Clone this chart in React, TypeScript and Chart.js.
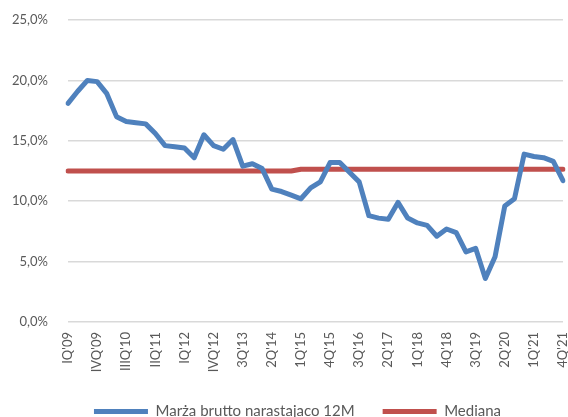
import React, { useEffect, useRef } from "react";
import { Chart, registerables } from "chart.js";

Chart.register(...registerables);

const quarterLabels: string[] = [
  "IQ'09", "IIQ'09", "IIIQ'09", "IVQ'09",
  "IQ'10", "IIQ'10", "IIIQ'10", "IVQ'10",
  "IQ'11", "IIQ'11", "IIIQ'11", "IVQ'11",
  "IQ'12", "IIQ'12", "IIIQ'12", "IVQ'12",
  "1Q'13", "2Q'13", "3Q'13", "4Q'13",
  "1Q'14", "2Q'14", "3Q'14", "4Q'14",
  "1Q'15", "2Q'15", "3Q'15", "4Q'15",
  "1Q'16", "2Q'16", "3Q'16", "4Q'16",
  "1Q'17", "2Q'17", "3Q'17", "4Q'17",
  "1Q'18", "2Q'18", "3Q'18", "4Q'18",
  "1Q'19", "2Q'19", "3Q'19", "4Q'19",
  "1Q'20", "2Q'20", "3Q'20", "4Q'20",
  "1Q'21", "2Q'21", "3Q'21", "4Q'21",
];

const marzaBrutto: number[] = [
  18.1, 19.1, 20.0, 19.9, 18.9, 17.0, 16.6, 16.5, 16.4, 15.6,
  14.6, 14.5, 14.4, 13.6, 15.5, 14.6, 14.3, 15.1, 12.9, 13.1,
  12.7, 11.0, 10.8, 10.5, 10.2, 11.1, 11.6, 13.2, 13.2, 12.4,
  11.6, 8.8, 8.6, 8.5, 9.9, 8.6, 8.2, 8.0, 7.1, 7.7,
  7.4, 5.8, 6.1, 3.6, 5.4, 9.6, 10.2, 13.9, 13.7, 13.6,
  13.3, 11.7,
];

const mediana: number[] = [
  12.5, 12.5, 12.5, 12.5, 12.5, 12.5, 12.5, 12.5, 12.5, 12.5,
  12.5, 12.5, 12.5, 12.5, 12.5, 12.5, 12.5, 12.5, 12.5, 12.5,
  12.5, 12.5, 12.5, 12.5, 12.65, 12.65, 12.65, 12.65, 12.65, 12.65,
  12.65, 12.65, 12.65, 12.65, 12.65, 12.65, 12.65, 12.65, 12.65, 12.65,
  12.65, 12.65, 12.65, 12.65, 12.65, 12.65, 12.65, 12.65, 12.65, 12.65,
  12.65, 12.65,
];

const seriesNames: string[] = ["Marża brutto narastajaco 12M", "Mediana"];
const yMin = 0;
const yMax = 25;
const yStep = 5;
const labelEvery = 3;

const FONT = "Lato, 'Open Sans', sans-serif";

const legendShift = {
  id: "legendShift",
  afterLayout(chart: any) {
    const lg = chart.legend;
    if (lg) {
      lg.left += 11;
      lg.right += 11;
    }
  },
};

export default function App() {
  const canvasRef = useRef<HTMLCanvasElement | null>(null);

  useEffect(() => {
    document.body.style.margin = "0";
    const canvas = canvasRef.current;
    if (!canvas) return;
    const chart = new Chart(canvas, {
      type: "line",
      data: {
        labels: quarterLabels,
        datasets: [
          {
            label: seriesNames[0],
            data: marzaBrutto,
            borderColor: "#4F81BD",
            backgroundColor: "#4F81BD",
            borderWidth: 5,
            pointRadius: 0,
            tension: 0,
            borderCapStyle: "round",
            borderJoinStyle: "round",
          },
          {
            label: seriesNames[1],
            data: mediana,
            borderColor: "#C0504D",
            backgroundColor: "#C0504D",
            borderWidth: 5,
            pointRadius: 0,
            tension: 0,
            borderCapStyle: "round",
            borderJoinStyle: "round",
          },
        ],
      },
      plugins: [legendShift],
      options: {
        responsive: false,
        animation: false,
        devicePixelRatio: 1,
        layout: { padding: { left: 10, right: 5, top: 20, bottom: -12 } },
        plugins: {
          tooltip: { enabled: false },
          legend: {
            position: "bottom",
            labels: {
              usePointStyle: true,
              pointStyle: "line",
              pointStyleWidth: 54,
              boxHeight: 5,
              color: "#595959",
              font: { family: FONT, size: 15 },
              padding: 28,
            },
          },
        },
        scales: {
          x: {
            type: "category",
            offset: false,
            grid: { display: false, drawTicks: false },
            border: { display: false },
            afterFit: (scale: any) => {
              scale.height = 54;
              scale.paddingLeft = 0;
              scale.paddingRight = 0;
            },
            ticks: {
              autoSkip: false,
              maxRotation: 90,
              minRotation: 90,
              color: "#595959",
              font: { family: FONT, size: 13 },
              padding: 10,
              callback: (_v: any, i: number) =>
                i % labelEvery === 0 ? quarterLabels[i] : null,
            },
          },
          y: {
            min: yMin,
            max: yMax,
            border: { display: false },
            grid: { color: "#D9D9D9", lineWidth: 1.5, drawTicks: false },
            afterFit: (scale: any) => {
              scale.width = 58;
              scale.paddingTop = 0;
              scale.paddingBottom = 0;
            },
            ticks: {
              stepSize: yStep,
              color: "#595959",
              font: { family: FONT, size: 13 },
              padding: 20,
              callback: (v: any) => Number(v).toFixed(1).replace(".", ",") + "%",
            },
          },
        },
      },
    });
    return () => chart.destroy();
  }, []);

  return <canvas ref={canvasRef} width={568} height={417} />;
}
